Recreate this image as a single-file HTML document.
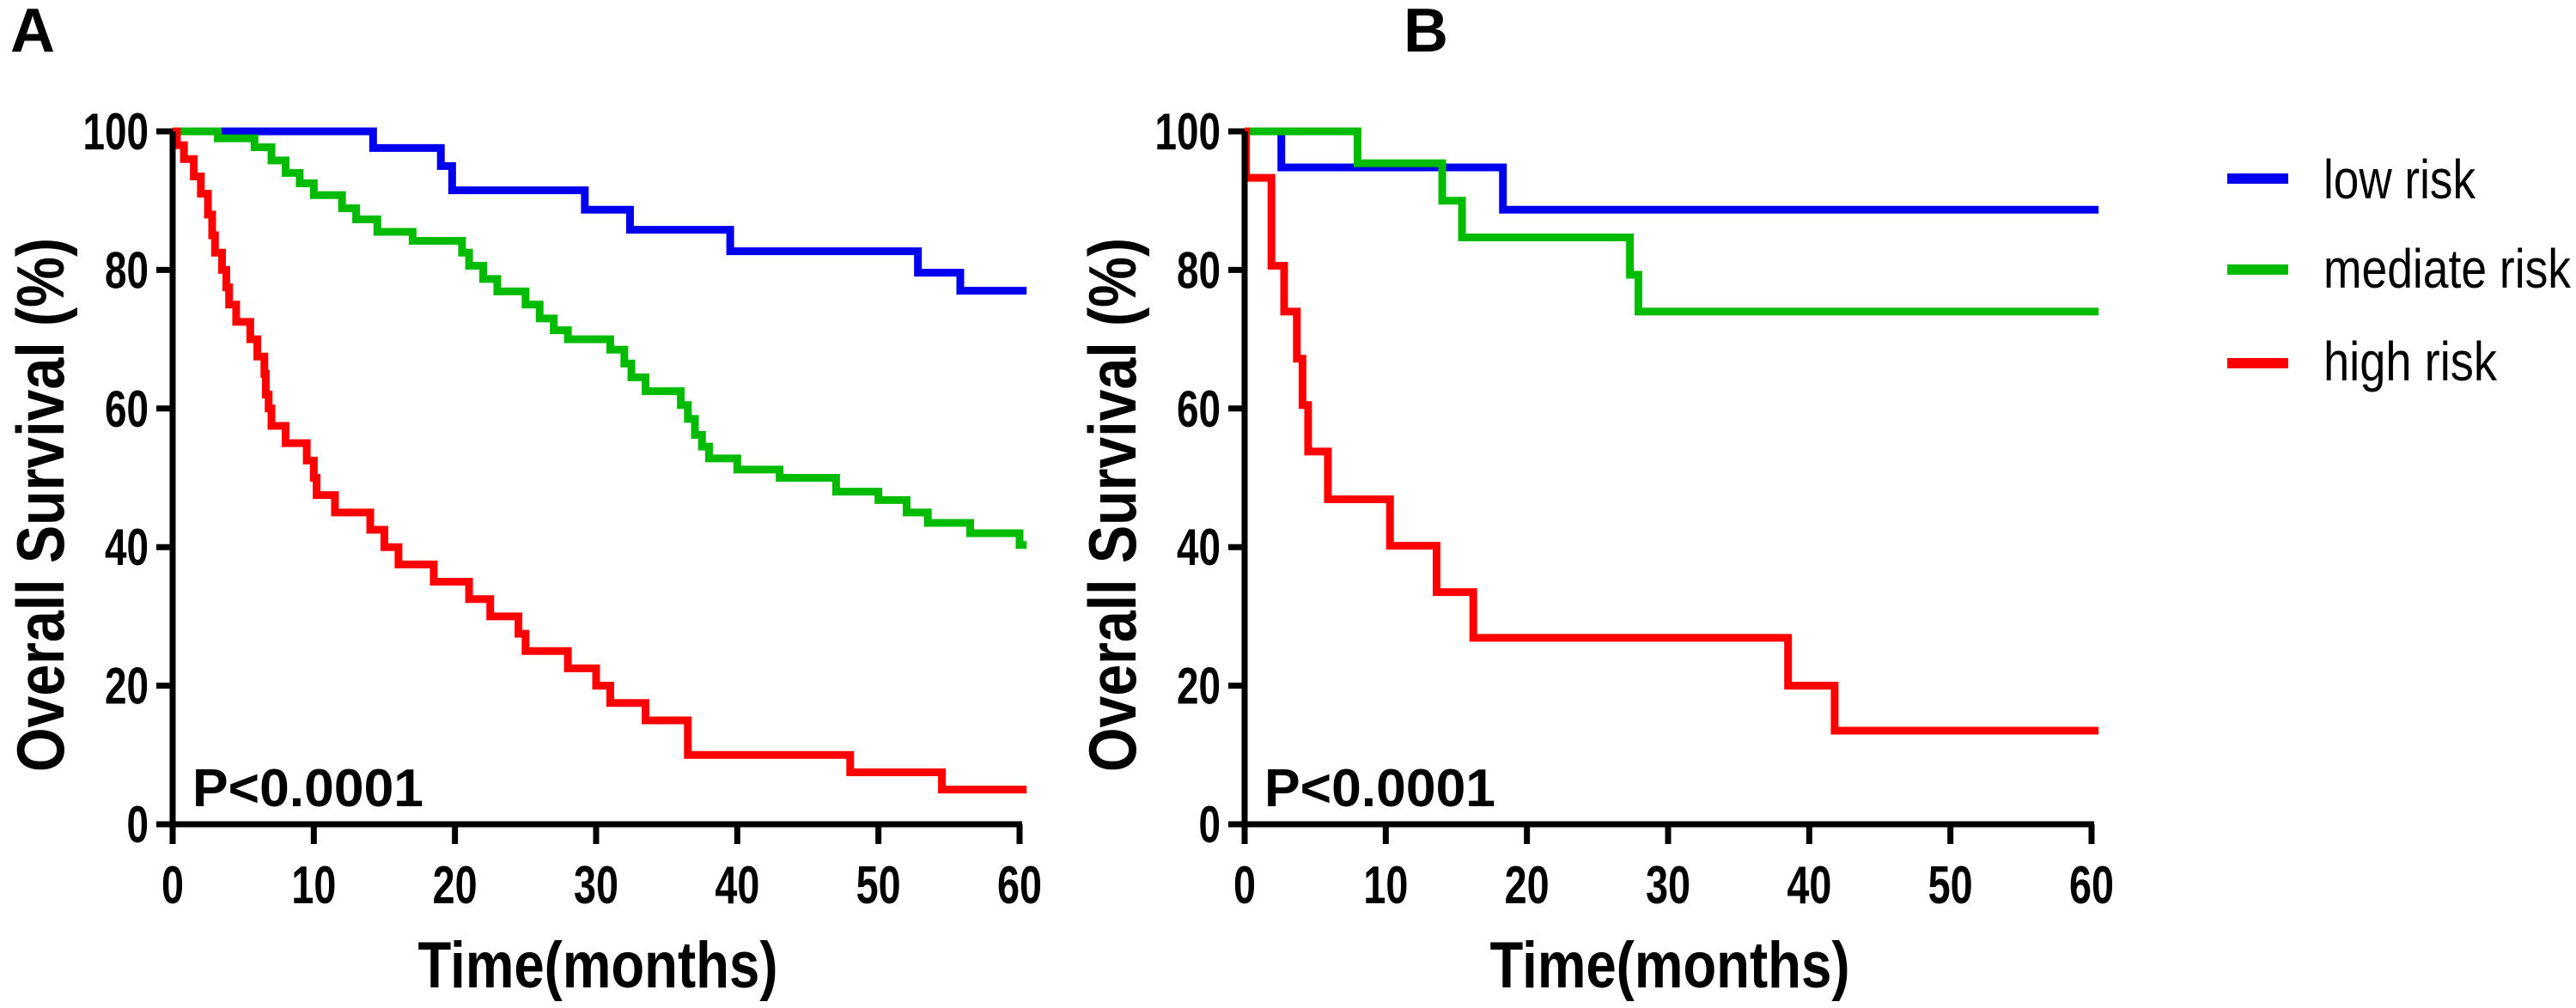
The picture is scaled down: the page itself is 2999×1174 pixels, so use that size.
<!DOCTYPE html>
<html><head><meta charset="utf-8"><style>
html,body{margin:0;padding:0;background:#fff;}
svg{display:block;font-family:"Liberation Sans",sans-serif;}
</style></head><body>
<svg id="chart" width="2999" height="1174" viewBox="0 0 2999 1174" xmlns="http://www.w3.org/2000/svg">
<g id="pA"></g>
<g id="pB"></g>
<g id="legend"></g>
</svg>
<script>
const xTicks = [0,10,20,30,40,50,60];
const yTicks = [0,20,40,60,80,100];
const seriesNames = ["low risk","mediate risk","high risk"];
const seriesColors = ["#0000ee","#00bb00","#ff0000"];
// Panel A step data: [month, survival%] change points
const aLowT = [0,14.2,19.0,19.8,29.2,32.4,39.5,52.8,55.8,60.5];
const aLowS = [100,97.6,95,91.5,88.7,85.8,82.7,79.6,77,77];
const aMidT = [0,3.2,5.8,7,8,9,10,12,13,14.5,17,20.5,21,22,23,25,26,27,28,31,32,32.5,33.5,36,36.5,37,37.5,38,40,43,47,50,52,53.5,56.5,60,60.5];
const aMidS = [100,99,97.7,95.8,94,92.5,90.8,88.9,87.3,85.5,84.2,82.5,80.6,78.7,76.9,75,73,71.3,70,68.5,66.5,64.5,62.5,60.5,58.5,56.2,54.5,52.8,51.2,50,48,46.8,45,43.5,42,40.3,40.3];
const aHighT = [0,0.3,0.8,1.5,2,2.5,2.8,3,3.5,3.8,4,4.5,5.5,6,6.5,6.6,6.8,7,8,9.5,10,10.2,11.5,14,15,16,18.5,21,22.5,24.5,25,28,30,31,33.5,36.5,48,54.5,60.5];
const aHighS = [100,98,96,93.5,91,88,85,82.5,80,77.5,75,72.5,70,67.5,65,62,60,57.5,55,52.5,50,47.5,45,42.5,40,37.5,35,32.5,30,27.5,25,22.5,20,17.5,15,10,7.5,5,5];
// Panel B
const bLowT = [0,2.6,18.3,60.5];
const bLowS = [100,94.8,88.7,88.7];
const bMidT = [0,8.0,14,15.4,27.3,27.9,60.5];
const bMidS = [100,95.4,90,84.7,79.3,74,74];
const bHighT = [0,0.1,1.9,2.8,3.7,4.1,4.5,5.9,10.3,13.6,16.2,38.5,41.8,60.5];
const bHighS = [100,93.3,80.6,74,67.2,60.5,53.8,46.9,40.2,33.5,26.9,20,13.5,13.5];
const pText = "P<0.0001";

const NS="http://www.w3.org/2000/svg";
function mk(parent, tag, attrs){const e=document.createElementNS(NS,tag);for(const k in attrs)e.setAttribute(k,attrs[k]);parent.appendChild(e);return e;}

function panel(gid, x0, letter, letterX, data){
  const g=document.getElementById(gid);
  const W=986, yTop=153, yBot=960;
  const sx=m=>x0+m/60*W;
  const sy=v=>yBot-v/100*(yBot-yTop);
  let t=mk(g,"text",{x:letterX,y:60,"font-size":72,"font-weight":"bold"});
  
  
  t.textContent=letter;
  // series
  data.forEach((d,i)=>{
    const T=d[0],S=d[1];
    let p="M"+sx(T[0])+","+sy(S[0]);
    for(let k=1;k<T.length;k++){p+=" H"+sx(T[k])+" V"+sy(S[k]);}
    const path=mk(g,"path",{d:p,fill:"none",stroke:seriesColors[i],"stroke-width":9,"stroke-linejoin":"miter"});
    
    
  });
  // axes
  const ax=mk(g,"path",{d:`M${x0},${yTop} V${yBot} H${x0+W+3}`,fill:"none",stroke:"#000","stroke-width":7});
  
  
  yTicks.forEach(v=>{
    const tk=mk(g,"line",{x1:x0-19,x2:x0,y1:sy(v),y2:sy(v),stroke:"#000","stroke-width":7});
    
    
    const s=String(v);
    const lb=mk(g,"text",{x:x0-28,y:sy(v)+21,"font-size":60,"font-weight":"bold","text-anchor":"end",textLength:s.length*25.5,lengthAdjust:"spacingAndGlyphs"});
    
    
    lb.textContent=s;
  });
  xTicks.forEach(v=>{
    const tk=mk(g,"line",{x1:sx(v),x2:sx(v),y1:yBot,y2:yBot+23,stroke:"#000","stroke-width":7});
    
    
    const s=String(v);
    const lb=mk(g,"text",{x:sx(v),y:1052,"font-size":62,"font-weight":"bold","text-anchor":"middle",textLength:s.length*26,lengthAdjust:"spacingAndGlyphs"});
    
    
    lb.textContent=s;
  });
  const xt=mk(g,"text",{x:x0+495,y:1150,"font-size":76,"font-weight":"bold","text-anchor":"middle",textLength:419,lengthAdjust:"spacingAndGlyphs"});
  
  
  xt.textContent="Time(months)";
  const yt=mk(g,"text",{x:0,y:0,"font-size":78,"font-weight":"bold","text-anchor":"middle",textLength:622,lengthAdjust:"spacingAndGlyphs",transform:`translate(${x0-127},588) rotate(-90)`});
  
  
  yt.textContent="Overall Survival (%)";
  const pv=mk(g,"text",{x:x0+23,y:939,"font-size":62,"font-weight":"bold",textLength:269,lengthAdjust:"spacingAndGlyphs"});
  
  
  pv.textContent=pText;
}
panel("pA",201,"A",12,[[aLowT,aLowS],[aMidT,aMidS],[aHighT,aHighS]]);
panel("pB",1449,"B",1634,[[bLowT,bLowS],[bMidT,bMidS],[bHighT,bHighS]]);

const lg=document.getElementById("legend");
const lgY=[208,314,423], lgBase=[231,335,443], lgW=[177,288,202];
seriesNames.forEach((n,i)=>{
  const ln=mk(lg,"line",{x1:2593,x2:2664,y1:lgY[i],y2:lgY[i],stroke:seriesColors[i],"stroke-width":12});
  
  
  const tx=mk(lg,"text",{x:2705,y:lgBase[i],"font-size":64,textLength:lgW[i],lengthAdjust:"spacingAndGlyphs"});
  
  
  tx.textContent=n;
});
</script>
</body></html>
